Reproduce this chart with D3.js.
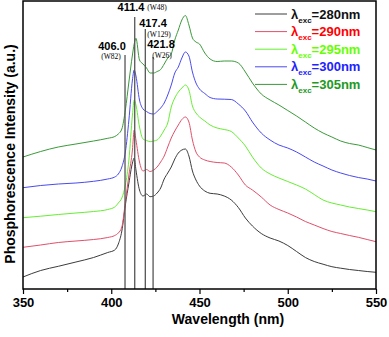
<!DOCTYPE html>
<html><head><meta charset="utf-8">
<script src="https://cdn.jsdelivr.net/npm/d3@7"></script>
<style>
html,body{margin:0;padding:0;background:#fff;}
svg{display:block;}
text{font-family:Arial,"Liberation Sans",Helvetica,sans-serif;}
</style>
</head><body>
<svg id="chart" width="389" height="337"></svg>
<script>
// ---------- data ----------
const wavelengths = [350,360,370,380,390,398,402,404,406,408,410,412,413,414,416,418,420,422,424,426,428,430,432,434,436,438,440,442,444,446,448,450,453,456,460,464,468,472,476,480,485,490,495,500,505,510,515,520,525,530,535,540,545,550];
const ex280 = [12,18.5,22.7,27,31.5,36.5,39,45,58,84,106,126,131,119,99,93,95,92.3,93,96,101,110,116,122,130,136,139,140,133,118,109,103,98,95.7,95,93,89,81.5,71,63,55.5,51,48,43.5,37.5,31.5,27.5,24.8,22.3,20.8,19.5,18.5,17.5,16.7];
const ex290 = [41.7,44,46.5,48,49.5,51.5,53.5,56,62,87,114,139,159,149,127,118,119.5,117.5,119,122,127,133,142,151,158,164,169.5,172,167,149,137,132,129,127.5,126.5,126,122,114,104,99,92,84,79.5,76,72,67.5,64,60.5,57.5,55.5,53.5,51.7,49.5,47.3];
const ex295 = [71.3,72.8,74.5,76,77.5,79.5,82,86,91,104,129,174,189,184,162,150,148.5,147.3,148,149,153,159,166,182,191,197,201,204,199,183,176,172,168,164,161,159.5,157.5,151,143,132,121,115,111,107.5,104,100,94.5,89,86,84,82,80.5,79,77.3];
const ex300 = [101.3,103.5,105,106,107.7,110,112,115,122,137,169,209,219,213,189,180,177.5,175.5,175,177.5,181,186,194,204,216,222,231,237,233,217,206,200,195.5,191.5,190,189.8,189.5,185,178,167,156,149,144,141,137,132,127,123,119,116,113.5,111.5,110,108];
const ex305 = [132,137.5,142,145,148,150.7,152.5,155,160,179,207,234,245,250.7,229,225,221,216,216,217.5,219.5,225,231,235,249,259,269,273.5,264,251,247,245,236,230,227.5,228,228,226,217,206,195,189,184,178.5,173,167,161,156,152,148,145.5,144,141.5,139];
const excitations = ["280","290","295","300","305"];
const peakPositions = [407.8, 413.3, 419.3, 423.7];
const peakTops = [234, 272, 260, 232];
const peakLabels = ["406.0","411.4","417.4","421.8"];
const peakNotes = ["(W82)","(W48)","(W129)","(W26)"];
const xMajorTicks = [350,400,450,500,550];
const xMinorTicks = [375,425,475,525];

// ---------- styles ----------
const lineColors = ["#3c3c3c","#e0506a","#66ee33","#4a4af0","#3a9a3a"];
const textColors = ["#111111","#ff0000","#66ff00","#2222ff","#229922"];
const allSeries = [ex280, ex290, ex295, ex300, ex305];

const svg = d3.select("#chart");
const L = 23, R = 376, T = 1, B = 289;
const x = d3.scaleLinear().domain([350,550]).range([L,R]);
const y = d3.scaleLinear().domain([0,288]).range([B,T]);

const line = d3.line().x(d => x(d[0])).y(d => y(d[1])).curve(d3.curveMonotoneX);

allSeries.forEach((s,i) => {
  svg.append("path")
    .datum(wavelengths.map((w,j) => [w, s[j]]))
    .attr("fill","none").attr("stroke",lineColors[i]).attr("stroke-width",1)
    .attr("d", line);
});

// vertical peak lines
svg.selectAll("line.peak").data(peakPositions).enter().append("line")
  .attr("class","peak")
  .attr("x1", d => x(d)).attr("x2", d => x(d))
  .attr("y1", (d,i) => y(peakTops[i])).attr("y2", B)
  .attr("stroke","#555").attr("stroke-width",1.3);

// peak labels
const labelPos = [[112,50],[131,11],[153,27],[161,48]];
const notePos  = [[111,58.5],[157,10],[159,37],[162,57.5]];
peakLabels.forEach((t,i) => {
  svg.append("text").attr("x",labelPos[i][0]).attr("y",labelPos[i][1])
    .attr("text-anchor","middle").attr("font-size",11).attr("font-weight","bold").text(t);
  svg.append("text").attr("x",notePos[i][0]).attr("y",notePos[i][1])
    .attr("text-anchor","middle").attr("font-size",7.5)
    .style("font-family","'Liberation Serif','Times New Roman',serif").text(peakNotes[i]);
});

// frame
svg.append("rect").attr("x",L).attr("y",T).attr("width",R-L).attr("height",B-T)
  .attr("fill","none").attr("stroke","#000").attr("stroke-width",1.5);

// x axis
const ax = svg.append("g").attr("transform",`translate(0,${B})`)
  .call(d3.axisBottom(x).tickValues(xMajorTicks).tickSize(5).tickPadding(4).tickFormat(d3.format("d")));
ax.select(".domain").remove();
ax.selectAll("line").attr("stroke","#000").attr("stroke-width",1.2);
ax.selectAll("text").attr("font-size",13).attr("font-weight","bold").attr("fill","#000")
  .style("font-family","Arial,'Liberation Sans',sans-serif");
const axm = svg.append("g").attr("transform",`translate(0,${B})`)
  .call(d3.axisBottom(x).tickValues(xMinorTicks).tickSize(3).tickFormat(""));
axm.select(".domain").remove();
axm.selectAll("line").attr("stroke","#000").attr("stroke-width",1.2);

// axis titles
svg.append("text").attr("x",228).attr("y",324).attr("text-anchor","middle")
  .attr("font-size",14).attr("font-weight","bold").text("Wavelength (nm)");
svg.append("text").attr("transform","translate(15,154) rotate(-90)").attr("text-anchor","middle")
  .attr("font-size",14).attr("font-weight","bold").text("Phosphorescence Intensity (a.u.)");

// legend
excitations.forEach((e,i) => {
  const ly = 14 + 17.6*i;
  svg.append("line").attr("x1",255).attr("x2",287).attr("y1",ly).attr("y2",ly)
    .attr("stroke",lineColors[i]).attr("stroke-width",1);
  const t = svg.append("text").attr("x",291).attr("y",ly+4.5)
    .attr("font-size",13).attr("font-weight","bold").attr("fill",textColors[i]);
  t.append("tspan").text("λ");
  t.append("tspan").attr("font-size",8).attr("dy",4).text("exc");
  t.append("tspan").attr("dy",-4).text("=" + e + "nm");
});
</script>
</body></html>
